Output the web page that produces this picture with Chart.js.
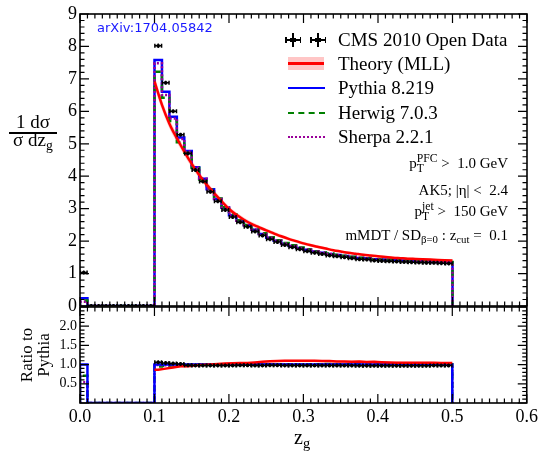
<!DOCTYPE html>
<html lang="en">
<head>
<meta charset="UTF-8">
<title>z_g distribution</title>
<script src="https://cdn.jsdelivr.net/npm/chart.js"></script>
<style>
  body { margin: 0; background: #fff; }
  #wrap { position: relative; width: 541px; height: 452px; overflow: hidden;
          font-family: 'Liberation Serif', serif; color: #000; }
  canvas { position: absolute; left: 0; }
  .txt { position: absolute; white-space: nowrap; }
  .leg { font-size: 19px; line-height: 24px; left: 338px; }
  .ann { font-size: 15px; line-height: 18px; right: 33px; }
  .ss { display: inline-block; vertical-align: -0.32em; font-size: 0.78em; line-height: 0.8; }
  .ss span { display: block; }
  sub { font-size: 0.72em; vertical-align: -0.3em; line-height: 0; }
  .sym { position: absolute; }
  .k { position: absolute; background: #000; }
</style>
</head>
<body>
<div id="wrap">
  <canvas id="ratio" width="541" height="162" style="top:290px"></canvas>
  <canvas id="main" width="541" height="320" style="top:0"></canvas>

  <div class="txt" style="left:97px;top:20px;font:13px 'DejaVu Sans';color:#1a1aff">arXiv:1704.05842</div>

  <!-- legend -->
  <div class="k" style="left:285px;top:39px;width:16px;height:2px"></div>
  <div class="k" style="left:285px;top:37px;width:1.5px;height:6px"></div>
  <div class="k" style="left:299.5px;top:37px;width:1.5px;height:6px"></div>
  <div class="k" style="left:292px;top:33px;width:2px;height:14px"></div>
  <div class="k" style="left:290px;top:38px;width:6px;height:4px"></div>
  <div class="k" style="left:310px;top:39px;width:16px;height:2px"></div>
  <div class="k" style="left:310px;top:37px;width:1.5px;height:6px"></div>
  <div class="k" style="left:324.5px;top:37px;width:1.5px;height:6px"></div>
  <div class="k" style="left:317px;top:33px;width:2px;height:14px"></div>
  <div class="k" style="left:315px;top:38px;width:6px;height:4px"></div>
  <div class="sym" style="left:288px;top:57px;width:36px;height:13px;background:#ffc6c6"></div>
  <div class="sym" style="left:288px;top:62px;width:36px;height:2.5px;background:#ff0000"></div>
  <div class="sym" style="left:288px;top:87px;width:37px;border-top:2.5px solid #0000ff"></div>
  <div class="sym" style="left:288px;top:112px;width:37px;border-top:2.5px dashed #008000"></div>
  <div class="sym" style="left:288px;top:136px;width:37px;border-top:2.5px dotted #990099"></div>
  <div class="txt leg" style="top:28px">CMS 2010 Open Data</div>
  <div class="txt leg" style="top:52px">Theory (MLL)</div>
  <div class="txt leg" style="top:76px">Pythia 8.219</div>
  <div class="txt leg" style="top:101px">Herwig 7.0.3</div>
  <div class="txt leg" style="top:125px">Sherpa 2.2.1</div>

  <!-- cuts -->
  <div class="txt ann" style="top:154px">p<span class="ss"><span>PFC</span><span>T</span></span> &gt;&nbsp; 1.0 GeV</div>
  <div class="txt ann" style="top:181px">AK5; |η| &lt;&nbsp; 2.4</div>
  <div class="txt ann" style="top:202px">p<span class="ss"><span>jet</span><span>T</span></span> &gt;&nbsp; 150 GeV</div>
  <div class="txt ann" style="top:226px">mMDT / SD<sub>β=0</sub> : z<sub>cut</sub> =&nbsp; 0.1</div>

  <!-- axis titles -->
  <div class="txt" style="left:10px;top:112px;width:46px;text-align:center;font-size:19px;line-height:20px">1 dσ</div>
  <div class="sym" style="left:9px;top:132px;width:48px;height:1.5px;background:#000"></div>
  <div class="txt" style="left:9px;top:130px;width:48px;text-align:center;font-size:19px;line-height:20px">σ dz<sub>g</sub></div>
  <div class="txt" style="left:-4px;top:337px;width:80px;height:36px;text-align:center;font-size:17px;line-height:17px;transform:rotate(-90deg)">Ratio to<br>Pythia</div>
  <div class="txt" style="left:294px;top:425px;font-size:20px;line-height:24px">z<sub>g</sub></div>
</div>

<script>
// bins of width 0.01 from 0 to 0.5
const zEdges = [0.00, 0.01, 0.02, 0.03, 0.04, 0.05, 0.06, 0.07, 0.08, 0.09,
                0.10, 0.11, 0.12, 0.13, 0.14, 0.15, 0.16, 0.17, 0.18, 0.19,
                0.20, 0.21, 0.22, 0.23, 0.24, 0.25, 0.26, 0.27, 0.28, 0.29,
                0.30, 0.31, 0.32, 0.33, 0.34, 0.35, 0.36, 0.37, 0.38, 0.39,
                0.40, 0.41, 0.42, 0.43, 0.44, 0.45, 0.46, 0.47, 0.48, 0.49, 0.50];

const dataVals = [1.03, 0, 0, 0, 0, 0, 0, 0, 0, 0,
                  8.02, 6.88, 6.00, 5.28, 4.70, 4.19, 3.84, 3.52, 3.23, 2.96,
                  2.74, 2.58, 2.44, 2.30, 2.17, 2.06, 1.97, 1.88, 1.81, 1.75,
                  1.69, 1.64, 1.60, 1.56, 1.53, 1.50, 1.47, 1.44, 1.43, 1.40,
                  1.39, 1.38, 1.37, 1.36, 1.35, 1.34, 1.33, 1.33, 1.32, 1.31];
const dataErr = [0.06, 0, 0, 0, 0, 0, 0, 0, 0, 0,
                 0.07, 0.06, 0.06, 0.05, 0.05, 0.05, 0.04, 0.04, 0.04, 0.04,
                 0.04, 0.04, 0.04, 0.03, 0.03, 0.03, 0.03, 0.03, 0.03, 0.03,
                 0.03, 0.03, 0.03, 0.03, 0.03, 0.03, 0.03, 0.03, 0.03, 0.03,
                 0.03, 0.03, 0.03, 0.03, 0.03, 0.03, 0.03, 0.03, 0.03, 0.03];
const pythiaVals = [0.24, 0, 0, 0, 0, 0, 0, 0, 0, 0,
                    7.58, 6.60, 5.83, 5.19, 4.78, 4.28, 3.92, 3.60, 3.30, 3.03,
                    2.80, 2.63, 2.49, 2.35, 2.22, 2.10, 2.01, 1.92, 1.85, 1.79,
                    1.73, 1.68, 1.64, 1.60, 1.57, 1.54, 1.51, 1.48, 1.47, 1.44,
                    1.43, 1.42, 1.41, 1.40, 1.39, 1.38, 1.37, 1.36, 1.355, 1.345];
const herwigVals = [0.17, 0, 0, 0, 0, 0, 0, 0, 0, 0,
                    7.22, 6.42, 5.70, 5.05, 4.72, 4.25, 3.90, 3.60, 3.31, 3.04,
                    2.82, 2.64, 2.50, 2.37, 2.24, 2.12, 2.03, 1.94, 1.87, 1.80,
                    1.75, 1.69, 1.65, 1.62, 1.58, 1.55, 1.52, 1.49, 1.48, 1.45,
                    1.44, 1.43, 1.45, 1.41, 1.40, 1.42, 1.38, 1.40, 1.37, 1.36];
const sherpaVals = [0.13, 0, 0, 0, 0, 0, 0, 0, 0, 0,
                    7.48, 6.50, 5.78, 5.15, 4.76, 4.27, 3.92, 3.59, 3.30, 3.04,
                    2.81, 2.63, 2.49, 2.36, 2.22, 2.11, 2.01, 1.93, 1.85, 1.79,
                    1.74, 1.68, 1.64, 1.60, 1.57, 1.54, 1.51, 1.48, 1.47, 1.44,
                    1.43, 1.42, 1.41, 1.40, 1.39, 1.38, 1.37, 1.36, 1.36, 1.35];

// theory curve, sampled at bin edges 0.10 .. 0.50
const theoryZ = zEdges.slice(10);
const theoryVals = [6.92, 6.20, 5.62, 5.17, 4.76, 4.38, 4.04, 3.74, 3.48, 3.23,
                    2.99, 2.81, 2.66, 2.53, 2.43, 2.33, 2.24, 2.15, 2.07, 2.00,
                    1.93, 1.87, 1.82, 1.77, 1.72, 1.68, 1.64, 1.61, 1.58, 1.555,
                    1.53, 1.51, 1.49, 1.475, 1.46, 1.45, 1.44, 1.43, 1.42, 1.41, 1.40];
const theoryUnc = 0.025;

const xTickLabels = ['0.0', '0.1', '0.2', '0.3', '0.4', '0.5', '0.6'];
const ratioTickLabels = ['0.5', '1.0', '1.5', '2.0'];

const BLUE = '#0000ff', RED = '#ff0000', GREEN = '#008000', PURPLE = '#990099';
const BAND = 'rgba(255, 90, 90, 0.32)';

// step outline of a histogram
function steps(vals) {
  const n = vals.length;
  const pts = [{x: zEdges[0], y: 0}];
  vals.forEach((v, i) => pts.push({x: zEdges[i], y: v}));
  pts.push({x: zEdges[n], y: vals[n - 1]});
  pts.push({x: zEdges[n], y: 0});
  return pts;
}

function histSet(vals, color, dash, order) {
  return {data: steps(vals), stepped: true, borderColor: color, borderWidth: 2.5,
          borderDash: dash, pointRadius: 0, fill: false, order: order};
}

// inward ticks + frame
const frameTicks = {
  id: 'frameTicks',
  afterDatasetsDraw(chart, args, o) {
    const {ctx, chartArea: a, scales} = chart;
    const x = scales.x, y = scales.y;
    ctx.save();
    ctx.strokeStyle = '#000';
    ctx.lineWidth = 1.2;
    ctx.beginPath();
    const nx = Math.round((x.max - x.min) / o.xMinor);
    for (let k = 0; k <= nx; k++) {
      const v = x.min + k * o.xMinor;
      const major = Math.abs(v / o.xMajor - Math.round(v / o.xMajor)) < 1e-6;
      const len = major ? o.major : o.minor;
      const px = x.getPixelForValue(v);
      ctx.moveTo(px, a.bottom); ctx.lineTo(px, a.bottom - len);
      ctx.moveTo(px, a.top); ctx.lineTo(px, a.top + len);
    }
    const ny = Math.round((y.max - y.min) / o.yMinor);
    for (let k = 0; k <= ny; k++) {
      const v = y.min + k * o.yMinor;
      const major = Math.abs(v / o.yMajor - Math.round(v / o.yMajor)) < 1e-6;
      const len = major ? o.major : o.minor;
      const py = y.getPixelForValue(v);
      ctx.moveTo(a.left, py); ctx.lineTo(a.left + len, py);
      ctx.moveTo(a.right, py); ctx.lineTo(a.right - len, py);
    }
    ctx.stroke();
    ctx.lineWidth = 1.6;
    ctx.strokeRect(a.left, a.top, a.right - a.left, a.bottom - a.top);
    ctx.restore();
  }
};

// data points with x and y error bars
const errorBars = {
  id: 'errorBars',
  afterDatasetsDraw(chart) {
    const {ctx, chartArea: a, scales: {x, y}} = chart;
    ctx.save();
    ctx.beginPath();
    ctx.rect(a.left, a.top, a.right - a.left, a.bottom - a.top);
    ctx.clip();
    ctx.strokeStyle = '#000';
    ctx.fillStyle = '#000';
    ctx.lineWidth = 1.5;
    chart.data.datasets.forEach(ds => {
      if (!ds.errBars) return;
      ds.data.forEach(p => {
        const x0 = x.getPixelForValue(p.x - 0.0045), x1 = x.getPixelForValue(p.x + 0.0045);
        const xc = x.getPixelForValue(p.x);
        const yc = y.getPixelForValue(p.y);
        const ylo = y.getPixelForValue(p.y - p.e), yhi = y.getPixelForValue(p.y + p.e);
        ctx.beginPath();
        ctx.moveTo(x0, yc); ctx.lineTo(x1, yc);
        ctx.moveTo(x0, yc - 2); ctx.lineTo(x0, yc + 2);
        ctx.moveTo(x1, yc - 2); ctx.lineTo(x1, yc + 2);
        ctx.moveTo(xc, Math.max(ylo, yc + 2)); ctx.lineTo(xc, Math.min(yhi, yc - 2));
        ctx.stroke();
        ctx.fillRect(xc - 1.5, yc - 1.5, 3, 3);
      });
    });
    ctx.restore();
  }
};

const dataPts = dataVals.map((v, i) => ({x: (zEdges[i] + zEdges[i + 1]) / 2, y: v, e: dataErr[i]}));
const theoryPts = theoryZ.map((z, i) => ({x: z, y: theoryVals[i]}));

const tickFontTop = {family: 'Liberation Serif', size: 18};

new Chart(document.getElementById('main'), {
  type: 'line',
  data: {
    datasets: [
      {data: dataPts, errBars: true, showLine: false, pointRadius: 0, order: 0},
      {data: theoryPts, borderColor: RED, borderWidth: 2.5, pointRadius: 0,
       cubicInterpolationMode: 'monotone', fill: false, order: 1},
      histSet(sherpaVals, PURPLE, [2, 2], 2),
      histSet(herwigVals, GREEN, [6, 4], 3),
      histSet(pythiaVals, BLUE, [], 4),
      {data: theoryPts.map(p => ({x: p.x, y: p.y * (1 - theoryUnc)})), borderWidth: 0,
       pointRadius: 0, cubicInterpolationMode: 'monotone', fill: false, order: 5},
      {data: theoryPts.map(p => ({x: p.x, y: p.y * (1 + theoryUnc)})), borderWidth: 0,
       pointRadius: 0, cubicInterpolationMode: 'monotone', fill: '-1',
       backgroundColor: BAND, order: 6}
    ]
  },
  options: {
    responsive: false,
    animation: false,
    layout: {padding: {top: 14, right: 14, bottom: 14, left: 0}},
    scales: {
      x: {type: 'linear', min: 0, max: 0.6, display: false},
      y: {
        min: 0, max: 9,
        ticks: {stepSize: 1, color: '#000', font: tickFontTop, padding: 3},
        grid: {display: false, drawTicks: false},
        border: {display: false},
        afterFit(s) { s.width = 80; }
      }
    },
    plugins: {
      legend: {display: false},
      tooltip: {enabled: false},
      frameTicks: {xMinor: 0.01, xMajor: 0.1, yMinor: 0.2, yMajor: 1, major: 9, minor: 4.5}
    }
  },
  plugins: [frameTicks, errorBars]
});

// ratio to Pythia
const ratioOf = vals => vals.map((v, i) => pythiaVals[i] > 0 ? v / pythiaVals[i] : 0);
const dataRatioPts = dataPts
  .map((p, i) => pythiaVals[i] > 0 ? {x: p.x, y: p.y / pythiaVals[i], e: p.e / pythiaVals[i]} : null)
  .filter(p => p && p.x > 0.1);
const theoryRatioPts = [];
for (let i = 10; i < 50; i++) {
  const t = (theoryVals[i - 10] + theoryVals[i - 9]) / 2 / pythiaVals[i];
  if (i === 10) theoryRatioPts.push({x: zEdges[i], y: t});
  theoryRatioPts.push({x: (zEdges[i] + zEdges[i + 1]) / 2, y: t});
  if (i === 49) theoryRatioPts.push({x: zEdges[i + 1], y: t});
}

new Chart(document.getElementById('ratio'), {
  type: 'line',
  data: {
    datasets: [
      {data: dataRatioPts, errBars: true, showLine: false, pointRadius: 0, order: 0},
      {data: theoryRatioPts, borderColor: RED, borderWidth: 2.5, pointRadius: 0, fill: false, order: 1},
      histSet(ratioOf(sherpaVals), PURPLE, [2, 2], 3),
      histSet(ratioOf(herwigVals), GREEN, [6, 4], 4),
      histSet(ratioOf(pythiaVals), BLUE, [], 2),
      {data: theoryRatioPts.map(p => ({x: p.x, y: p.y * (1 - theoryUnc)})), borderWidth: 0,
       pointRadius: 0, fill: false, order: 5},
      {data: theoryRatioPts.map(p => ({x: p.x, y: p.y * (1 + theoryUnc)})), borderWidth: 0,
       pointRadius: 0, fill: '-1', backgroundColor: BAND, order: 6}
    ]
  },
  options: {
    responsive: false,
    animation: false,
    layout: {padding: {top: 17, right: 14, bottom: 0, left: 0}},
    scales: {
      x: {
        type: 'linear', min: 0, max: 0.6,
        ticks: {stepSize: 0.1, color: '#000', font: {family: 'Liberation Serif', size: 18},
                padding: 3, maxRotation: 0, autoSkip: false,
                callback: (v, i) => xTickLabels[i]},
        grid: {display: false, drawTicks: false},
        border: {display: false},
        afterFit(s) { s.height = 49; }
      },
      y: {
        min: 0, max: 2.5,
        ticks: {stepSize: 0.5, color: '#000', font: {family: 'Liberation Serif', size: 14}, padding: 3,
                callback: (v, i) => (i >= 1 && i <= 4) ? ratioTickLabels[i - 1] : null},
        grid: {display: false, drawTicks: false},
        border: {display: false},
        afterFit(s) { s.width = 80; }
      }
    },
    plugins: {
      legend: {display: false},
      tooltip: {enabled: false},
      frameTicks: {xMinor: 0.01, xMajor: 0.1, yMinor: 0.1, yMajor: 0.5, major: 9, minor: 4.5}
    }
  },
  plugins: [frameTicks, errorBars]
});
</script>
</body>
</html>
